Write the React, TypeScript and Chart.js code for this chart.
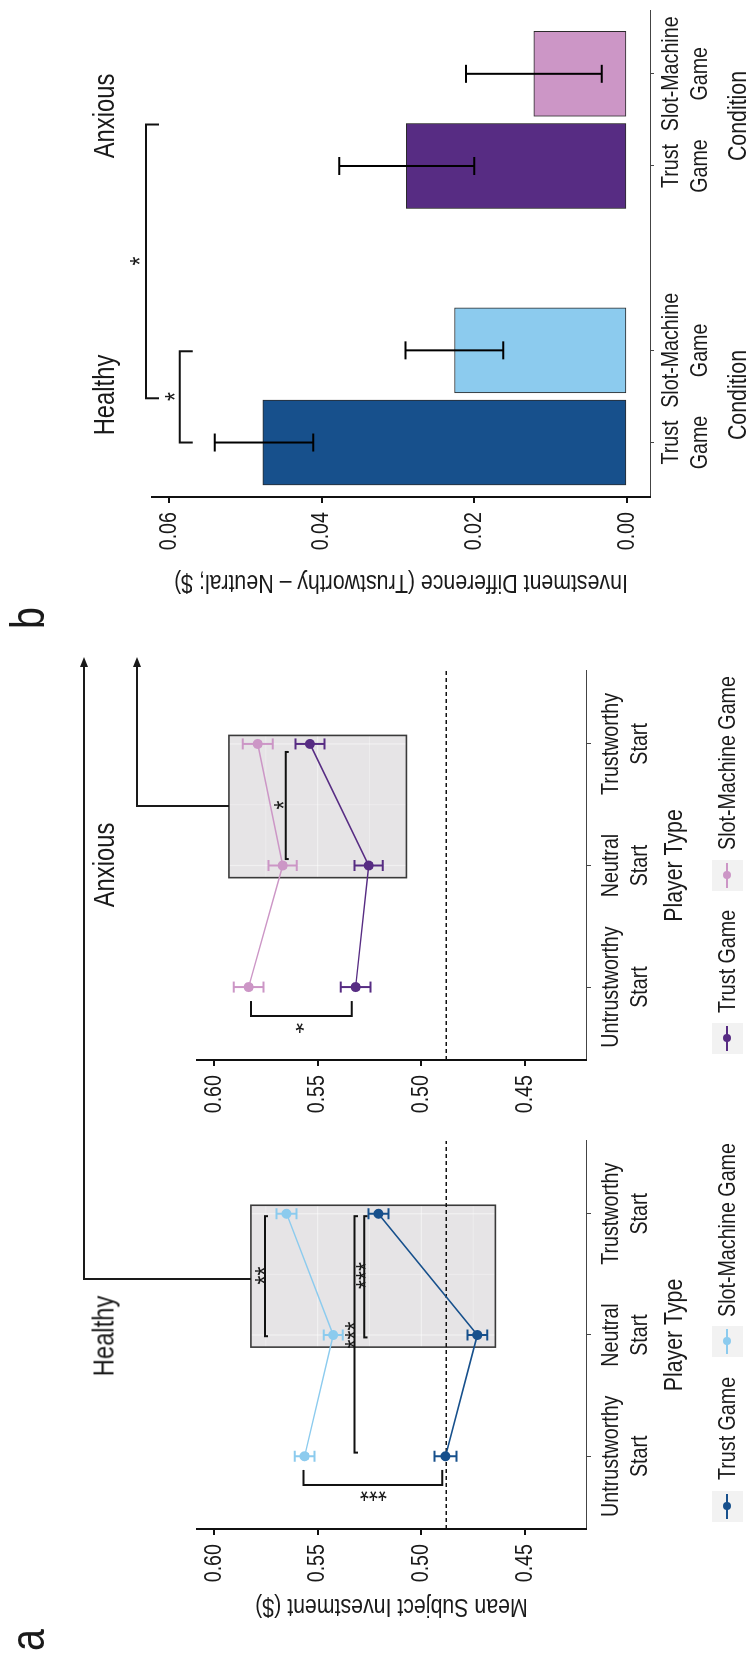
import React, { useEffect, useRef } from "react";
import { Chart, registerables } from "chart.js";
Chart.register(...registerables);

// ---------------- data ----------------
const PLAYER_TYPES = [["Untrustworthy", "Start"], ["Neutral", "Start"], ["Trustworthy", "Start"]];
const PLAYER_POS = [1, 2, 3];
const PLAYER_RANGE = [0.4, 3.6];
const INVEST_TICKS = [0.45, 0.5, 0.55, 0.6];
const INVEST_RANGE = [0.4206, 0.6082];
const CHANCE_INVEST = 0.488;

const HEALTHY_TRUST = [0.4884, 0.473, 0.5207];
const HEALTHY_TRUST_SE = [0.0053, 0.0048, 0.0048];
const HEALTHY_SLOT = [0.5563, 0.5425, 0.565];
const HEALTHY_SLOT_SE = [0.0048, 0.0046, 0.0048];
const ANXIOUS_TRUST = [0.5317, 0.5254, 0.5537];
const ANXIOUS_TRUST_SE = [0.0072, 0.0068, 0.007];
const ANXIOUS_SLOT = [0.5833, 0.5669, 0.5789];
const ANXIOUS_SLOT_SE = [0.0072, 0.0068, 0.0072];

// highlighted Neutral -> Trustworthy region (data units)
const INSET_X = [1.9, 3.07];
const HEALTHY_INSET_Y = [0.4643, 0.5822];
const ANXIOUS_INSET_Y = [0.5072, 0.5928];
const INSET_GRID_MAJOR = [0.5, 0.55, 2, 3];
const INSET_GRID_Y = [0.475, 0.5, 0.525, 0.55, 0.575];
const INSET_GRID_X = [2, 2.5, 3];

const CONDITIONS = [["Trust", "Game"], ["Slot-Machine", "Game"], ["Trust", "Game"], ["Slot-Machine", "Game"]];
const CONDITION_POS = [1, 2, 4, 5];
const CONDITION_RANGE = [0.409, 5.688];
const DIFF_TICKS = [0, 0.02, 0.04, 0.06];
const DIFF_RANGE = [-0.00302, 0.06223];
const DIFF_MEAN = [0.0477, 0.0226, 0.0289, 0.0122];
const DIFF_LOW = [0.0411, 0.0162, 0.02, 0.0033];
const DIFF_HIGH = [0.054, 0.029, 0.0377, 0.0211];

// significance brackets (data units): dir, from, to, at, tick end, label, label x, label y
const HEALTHY_BRACKETS = [
  { dir: "v", from: 0.4899, to: 0.5568, at: 0.763, tick: 0.887, label: "***", lx: 0.656, ly: 0.5232 },
  { dir: "h", from: 1.99, to: 2.98, at: 0.5754, tick: 0.574, label: "**", lx: 2.49, ly: 0.5788 },
  { dir: "h", from: 1.03, to: 2.98, at: 0.5323, tick: 0.5305, label: "***", lx: 2.0, ly: 0.5352 },
  { dir: "h", from: 1.98, to: 2.98, at: 0.5275, tick: 0.526, label: "***", lx: 2.49, ly: 0.5299 },
];
const ANXIOUS_BRACKETS = [
  { dir: "v", from: 0.5336, to: 0.5822, at: 0.762, tick: 0.885, label: "*", lx: 0.647, ly: 0.5586 },
  { dir: "h", from: 2.053, to: 2.934, at: 0.5654, tick: 0.564, label: "*", lx: 2.498, ly: 0.5698 },
];
const DIFF_BRACKETS = [
  { dir: "h", from: 1, to: 1.99, at: 0.0586, tick: 0.0569, label: "*", lx: 1.5, ly: 0.0601 },
  { dir: "h", from: 1.48, to: 4.45, at: 0.063, tick: 0.0613, label: "*", lx: 2.97, ly: 0.0647 },
];

// ---------------- style ----------------
const FONT = '"Liberation Sans", Arial, Helvetica, sans-serif';
const NARROW = 0.82; // condensed look of the original typeface
const INK = "#1a1a1a";
const C_H_TRUST = "#17508c";
const C_H_SLOT = "#8ccbee";
const C_A_TRUST = "#572c83";
const C_A_SLOT = "#cc96c6";
const BAR_COLORS = [C_H_TRUST, C_H_SLOT, C_A_TRUST, C_A_SLOT];

Chart.defaults.font.family = FONT;

// draws every canvas text horizontally condensed about its anchor
const narrowTextPlugin = {
  id: "narrowText",
  beforeInit(chart) {
    const ctx = chart.ctx;
    if (ctx.__narrow) return;
    ctx.__narrow = true;
    const orig = ctx.fillText;
    ctx.fillText = function (text, x, y, maxWidth) {
      this.save();
      this.translate(x, y);
      this.scale(NARROW, 1);
      if (maxWidth !== undefined && maxWidth !== null) orig.call(this, text, 0, 0, maxWidth / NARROW);
      else orig.call(this, text, 0, 0);
      this.restore();
    };
  },
};
Chart.register(narrowTextPlugin);

function drawErrors(ctx, xs, ys, list) {
  for (const e of list) {
    ctx.strokeStyle = e.color;
    ctx.lineWidth = e.width;
    for (let i = 0; i < e.pos.length; i++) {
      const x = xs.getPixelForValue(e.pos[i]);
      const yl = ys.getPixelForValue(e.lo[i]);
      const yh = ys.getPixelForValue(e.hi[i]);
      ctx.beginPath();
      ctx.moveTo(x, yl); ctx.lineTo(x, yh);
      ctx.moveTo(x - e.cap, yl); ctx.lineTo(x + e.cap, yl);
      ctx.moveTo(x - e.cap, yh); ctx.lineTo(x + e.cap, yh);
      ctx.stroke();
    }
  }
}

function drawBrackets(ctx, xs, ys, list, size) {
  ctx.strokeStyle = "#111";
  ctx.lineWidth = 2;
  ctx.fillStyle = INK;
  ctx.font = `${size}px ${FONT}`;
  ctx.textAlign = "center";
  ctx.textBaseline = "alphabetic";
  for (const b of list) {
    ctx.beginPath();
    if (b.dir === "h") {
      const y = ys.getPixelForValue(b.at), yt = ys.getPixelForValue(b.tick);
      const xa = xs.getPixelForValue(b.from), xb = xs.getPixelForValue(b.to);
      ctx.moveTo(xa, yt); ctx.lineTo(xa, y); ctx.lineTo(xb, y); ctx.lineTo(xb, yt);
      ctx.stroke();
      ctx.fillText(b.label, xs.getPixelForValue(b.lx), ys.getPixelForValue(b.ly) + 0.57 * size);
    } else {
      const x = xs.getPixelForValue(b.at), xt = xs.getPixelForValue(b.tick);
      const ya = ys.getPixelForValue(b.from), yb = ys.getPixelForValue(b.to);
      ctx.moveTo(xt, ya); ctx.lineTo(x, ya); ctx.lineTo(x, yb); ctx.lineTo(xt, yb);
      ctx.stroke();
      ctx.save();
      ctx.translate(xs.getPixelForValue(b.lx), ys.getPixelForValue(b.ly));
      ctx.rotate(-Math.PI / 2);
      ctx.fillText(b.label, 0, 0.57 * size);
      ctx.restore();
    }
  }
}

function makeDecor(cfg) {
  return {
    id: "decor",
    beforeDatasetsDraw(chart) {
      const { ctx, chartArea: ca } = chart;
      const xs = chart.scales.x, ys = chart.scales.y;
      ctx.save();
      if (cfg.inset) {
        const L = xs.getPixelForValue(cfg.inset.x[0]);
        const R = xs.getPixelForValue(cfg.inset.x[1]);
        const T = ys.getPixelForValue(cfg.inset.y[1]);
        const B = ys.getPixelForValue(cfg.inset.y[0]);
        ctx.fillStyle = "#e6e4e6";
        ctx.fillRect(L, T, R - L, B - T);
        ctx.save();
        ctx.beginPath(); ctx.rect(L, T, R - L, B - T); ctx.clip();
        for (const g of INSET_GRID_Y) {
          const yy = ys.getPixelForValue(g);
          ctx.strokeStyle = "rgba(255,255,255,0.45)";
          ctx.lineWidth = INSET_GRID_MAJOR.includes(g) ? 1.3 : 0.7;
          ctx.beginPath(); ctx.moveTo(L, yy); ctx.lineTo(R, yy); ctx.stroke();
        }
        for (const g of INSET_GRID_X) {
          const xx = xs.getPixelForValue(g);
          ctx.strokeStyle = "rgba(255,255,255,0.45)";
          ctx.lineWidth = INSET_GRID_MAJOR.includes(g) ? 1.3 : 0.7;
          ctx.beginPath(); ctx.moveTo(xx, T); ctx.lineTo(xx, B); ctx.stroke();
        }
        ctx.restore();
        ctx.strokeStyle = "#3a3a3a";
        ctx.lineWidth = 1.6;
        ctx.strokeRect(L, T, R - L, B - T);
      }
      if (cfg.refLine != null) {
        const yy = ys.getPixelForValue(cfg.refLine);
        ctx.setLineDash([4, 3]);
        ctx.strokeStyle = "#111";
        ctx.lineWidth = 1.3;
        ctx.beginPath(); ctx.moveTo(ca.left, yy); ctx.lineTo(ca.right, yy); ctx.stroke();
        ctx.setLineDash([]);
      }
      if (!cfg.errorsOnTop) drawErrors(ctx, xs, ys, cfg.errors);
      ctx.restore();
    },
    afterDatasetsDraw(chart) {
      const { ctx } = chart;
      const xs = chart.scales.x, ys = chart.scales.y;
      ctx.save();
      if (cfg.errorsOnTop) drawErrors(ctx, xs, ys, cfg.errors);
      drawBrackets(ctx, xs, ys, cfg.brackets, 28);
      ctx.restore();
    },
  };
}

const tickFont = { family: FONT, size: 24, lineHeight: 1.2 };
const titleFont = { family: FONT, size: 26, lineHeight: 1.2 };

function lineConfig(o) {
  const ds = (label, vals, color) => ({
    label,
    data: vals.map((v, i) => ({ x: PLAYER_POS[i], y: v })),
    borderColor: color,
    backgroundColor: color,
    pointBackgroundColor: color,
    pointBorderWidth: 0,
    pointRadius: 5,
    borderWidth: 1.5,
  });
  return {
    type: "line",
    data: {
      datasets: [ds("Trust Game", o.trust, o.trustColor), ds("Slot-Machine Game", o.slot, o.slotColor)],
    },
    options: {
      responsive: false,
      animation: false,
      devicePixelRatio: 1,
      events: [],
      layout: { padding: { top: 197, right: o.padRight, left: 0, bottom: 0 } },
      plugins: { legend: { display: false }, tooltip: { enabled: false } },
      scales: {
        x: {
          type: "linear",
          min: PLAYER_RANGE[0],
          max: PLAYER_RANGE[1],
          offset: false,
          afterBuildTicks: (s) => { s.ticks = PLAYER_POS.map((v) => ({ value: v })); },
          afterFit: (s) => { s.height = 163; },
          ticks: {
            callback: (v) => PLAYER_TYPES[PLAYER_POS.indexOf(v)],
            font: tickFont, color: INK, padding: 6, autoSkip: false, maxRotation: 0, minRotation: 0,
          },
          grid: { drawOnChartArea: false, drawTicks: true, tickLength: 5, color: "#444", lineWidth: 1 },
          border: { display: true, color: "#444", width: 1 },
          title: { display: true, text: "Player Type", font: titleFont, color: INK, padding: { top: 0, bottom: 59 } },
        },
        y: {
          type: "linear",
          min: INVEST_RANGE[0],
          max: INVEST_RANGE[1],
          afterBuildTicks: (s) => { s.ticks = INVEST_TICKS.map((v) => ({ value: v })); },
          afterFit: (s) => { s.width = o.yWidth; },
          ticks: { callback: (v) => Number(v).toFixed(2), font: tickFont, color: INK, padding: 9 },
          grid: { drawOnChartArea: false, drawTicks: true, tickLength: 6, color: "#111", lineWidth: 2 },
          border: { display: true, color: "#111", width: 2 },
          title: {
            display: !!o.yTitle, text: o.yTitle || "", font: titleFont, color: INK,
            padding: { top: 33, bottom: 0 },
          },
        },
      },
    },
    plugins: [
      makeDecor({
        inset: { x: INSET_X, y: o.insetY },
        refLine: CHANCE_INVEST,
        errors: [
          { pos: PLAYER_POS, lo: o.trust.map((v, i) => v - o.trustSe[i]), hi: o.trust.map((v, i) => v + o.trustSe[i]), color: o.trustColor, cap: 5.5, width: 2 },
          { pos: PLAYER_POS, lo: o.slot.map((v, i) => v - o.slotSe[i]), hi: o.slot.map((v, i) => v + o.slotSe[i]), color: o.slotColor, cap: 5.5, width: 2 },
        ],
        brackets: o.brackets,
      }),
    ],
  };
}

function barConfig() {
  return {
    type: "bar",
    data: {
      datasets: [{
        data: CONDITION_POS.map((p, i) => ({ x: p, y: DIFF_MEAN[i] })),
        backgroundColor: BAR_COLORS,
        borderColor: "#2a2a2a",
        borderWidth: 1,
        borderSkipped: false,
        barThickness: 85,
      }],
    },
    options: {
      responsive: false,
      animation: false,
      devicePixelRatio: 1,
      events: [],
      layout: { padding: { top: 152, right: 6, left: 0, bottom: 0 } },
      plugins: { legend: { display: false }, tooltip: { enabled: false } },
      scales: {
        x: {
          type: "linear",
          min: CONDITION_RANGE[0],
          max: CONDITION_RANGE[1],
          offset: false,
          afterBuildTicks: (s) => { s.ticks = CONDITION_POS.map((v) => ({ value: v })); },
          afterFit: (s) => { s.height = 99; },
          ticks: {
            callback: (v) => CONDITIONS[CONDITION_POS.indexOf(v)],
            font: tickFont, color: INK, padding: 3, autoSkip: false, maxRotation: 0, minRotation: 0,
          },
          grid: { offset: false, drawOnChartArea: false, drawTicks: true, tickLength: 4, color: "#444", lineWidth: 1 },
          border: { display: true, color: "#444", width: 1 },
        },
        y: {
          type: "linear",
          min: DIFF_RANGE[0],
          max: DIFF_RANGE[1],
          afterBuildTicks: (s) => { s.ticks = DIFF_TICKS.map((v) => ({ value: v })); },
          afterFit: (s) => { s.width = 138; },
          ticks: { callback: (v) => Number(v).toFixed(2), font: tickFont, color: INK, padding: 9 },
          grid: { drawOnChartArea: false, drawTicks: true, tickLength: 6, color: "#111", lineWidth: 2 },
          border: { display: true, color: "#111", width: 2 },
          title: {
            display: true, text: "Investment Difference (Trustworthy \u2013 Neutral; $)", font: titleFont, color: INK,
            padding: { top: 37, bottom: 0 },
          },
        },
      },
    },
    plugins: [
      makeDecor({
        errorsOnTop: true,
        errors: [{ pos: CONDITION_POS, lo: DIFF_LOW, hi: DIFF_HIGH, color: "#000", cap: 9, width: 2 }],
        brackets: DIFF_BRACKETS,
      }),
    ],
  };
}

function ChartCanvas({ left, width, make }) {
  const ref = useRef(null);
  useEffect(() => {
    const chart = new Chart(ref.current, make());
    return () => chart.destroy();
  }, []);
  return (
    <canvas
      ref={ref}
      width={width}
      height={749}
      style={{ position: "absolute", left, top: 0, width, height: 749 }}
    />
  );
}

function Txt({ x, y, size, children, anchor = "center" }) {
  const centered = anchor === "center";
  return (
    <div
      style={{
        position: "absolute",
        left: x,
        top: y,
        transformOrigin: centered ? "50% 50%" : "0 50%",
        transform: (centered ? "translate(-50%, -50%)" : "translate(0, -50%)") + ` scaleX(${NARROW})`,
        fontFamily: FONT,
        fontSize: size,
        lineHeight: 1,
        whiteSpace: "nowrap",
        color: INK,
      }}
    >
      {children}
    </div>
  );
}

function Letter({ x, children }) {
  return (
    <div
      style={{
        position: "absolute", left: x, top: 4, fontFamily: FONT, fontSize: 48, lineHeight: 1, color: INK,
        transformOrigin: "0 0", transform: `scaleX(${NARROW})`,
      }}
    >
      {children}
    </div>
  );
}

function LegendItem({ left, textLeft, color, label }) {
  return (
    <>
      <div style={{ position: "absolute", left, top: 727 - 15.5, width: 31, height: 31, background: "#f2f2f2" }}>
        <div style={{ position: "absolute", left: 3, top: 14.5, width: 25, height: 2, background: color }} />
        <div style={{ position: "absolute", left: 11.5, top: 11.5, width: 8, height: 8, borderRadius: "50%", background: color }} />
      </div>
      <Txt x={textLeft} y={727} size={24} anchor="left">{label}</Txt>
    </>
  );
}

function Seg({ x, y, w, h }) {
  return <div style={{ position: "absolute", left: x, top: y, width: w, height: h, background: INK }} />;
}

function Arrow({ x, y }) {
  return (
    <div
      style={{
        position: "absolute", left: x, top: y - 4.5, width: 0, height: 0,
        borderTop: "4.5px solid transparent", borderBottom: "4.5px solid transparent", borderLeft: `10px solid ${INK}`,
      }}
    />
  );
}

export default function App() {
  return (
    <div style={{ position: "absolute", left: 0, top: 0, width: 749, height: 1655, overflow: "hidden", background: "#fff" }}>
      <div
        style={{
          position: "absolute", left: 0, top: 0, width: 1655, height: 749,
          transformOrigin: "0 0", transform: "translate(0px, 1655px) rotate(-90deg)",
        }}
      >
        <ChartCanvas
          left={0}
          width={560}
          make={() =>
            lineConfig({
              trust: HEALTHY_TRUST, trustSe: HEALTHY_TRUST_SE, slot: HEALTHY_SLOT, slotSe: HEALTHY_SLOT_SE,
              trustColor: C_H_TRUST, slotColor: C_H_SLOT, insetY: HEALTHY_INSET_Y, brackets: HEALTHY_BRACKETS,
              padRight: 46, yWidth: 126, yTitle: "Mean Subject Investment ($)",
            })
          }
        />
        <ChartCanvas
          left={520}
          width={500}
          make={() =>
            lineConfig({
              trust: ANXIOUS_TRUST, trustSe: ANXIOUS_TRUST_SE, slot: ANXIOUS_SLOT, slotSe: ANXIOUS_SLOT_SE,
              trustColor: C_A_TRUST, slotColor: C_A_SLOT, insetY: ANXIOUS_INSET_Y, brackets: ANXIOUS_BRACKETS,
              padRight: 36, yWidth: 75, yTitle: null,
            })
          }
        />
        <ChartCanvas left={1020} width={635} make={barConfig} />

        {/* connectors from highlighted regions to panel b */}
        <Seg x={375} y={83} w={2} h={168} />
        <Seg x={375} y={83} w={614} h={2} />
        <Arrow x={988} y={84} />
        <Seg x={848} y={136} w={2} h={93} />
        <Seg x={848} y={136} w={141} h={2} />
        <Arrow x={988} y={137} />

        {/* panel letters */}
        <Letter x={4}>a</Letter>
        <Letter x={1026}>b</Letter>

        {/* group titles */}
        <Txt x={319} y={104} size={29}>Healthy</Txt>
        <Txt x={790} y={104} size={29}>Anxious</Txt>
        <Txt x={1260} y={104} size={29}>Healthy</Txt>
        <Txt x={1539} y={104} size={29}>Anxious</Txt>
        <Txt x={1260} y={737} size={26}>Condition</Txt>
        <Txt x={1539} y={737} size={26}>Condition</Txt>

        {/* legends */}
        <LegendItem left={133} textLeft={175} color={C_H_TRUST} label="Trust Game" />
        <LegendItem left={298} textLeft={338} color={C_H_SLOT} label="Slot-Machine Game" />
        <LegendItem left={601} textLeft={642} color={C_A_TRUST} label="Trust Game" />
        <LegendItem left={764} textLeft={805} color={C_A_SLOT} label="Slot-Machine Game" />
      </div>
    </div>
  );
}
